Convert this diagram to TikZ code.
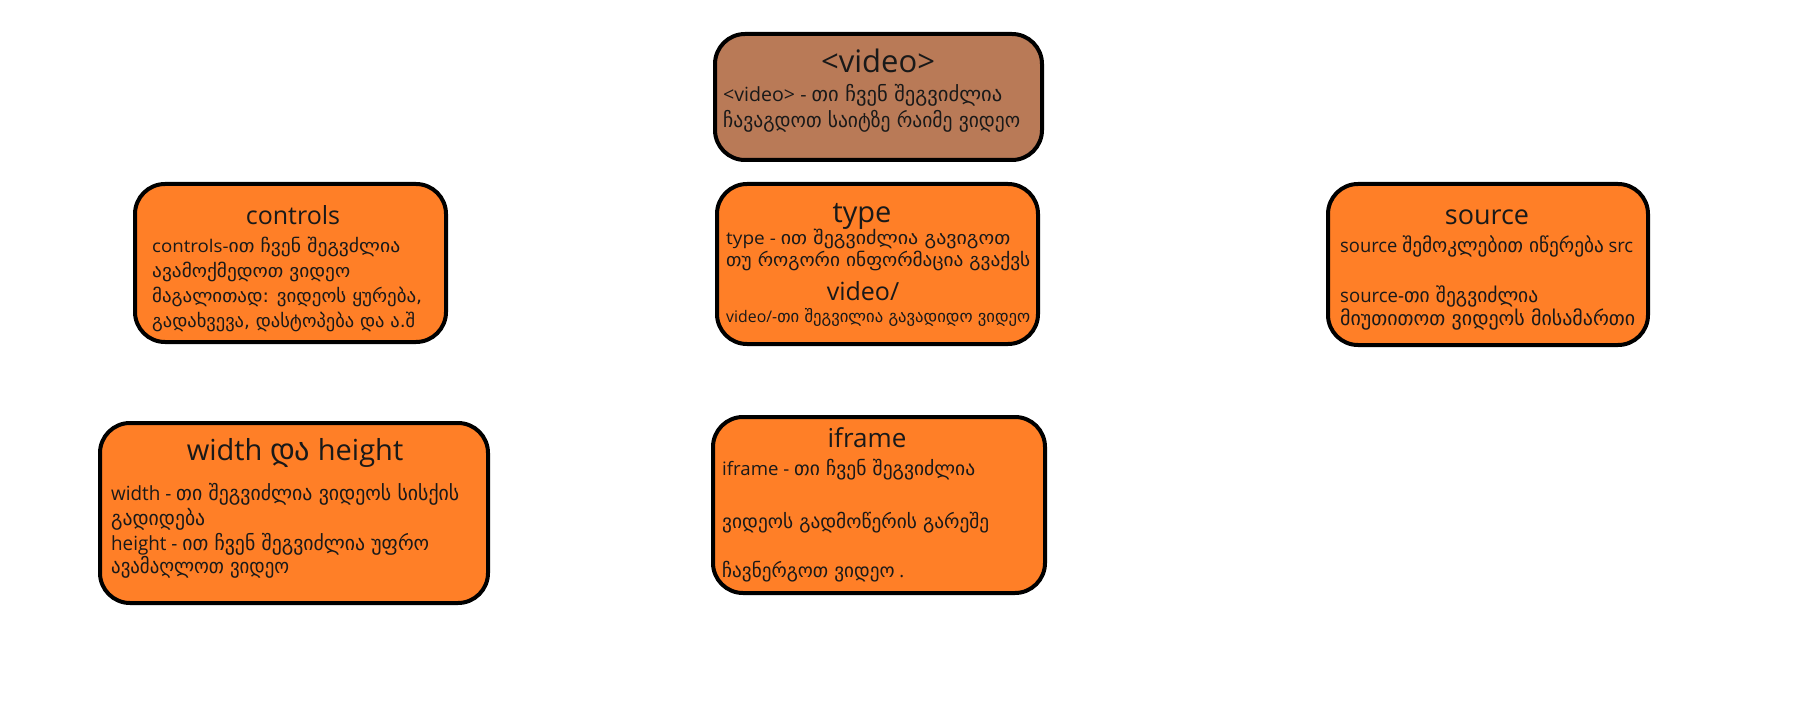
\documentclass[tikz,border=0pt]{standalone}
\usepackage{fontspec}
\usepackage{graphicx}
\setmainfont{Open Sans}
\newfontfamily\ka{DejaVu Sans}[Scale=1.05]
\definecolor{orangefill}{RGB}{255,127,39}
\definecolor{brownfill}{RGB}{185,122,87}
\newcommand\fitw[2]{\resizebox{#1pt}{\height}{#2}}
\newcommand\bsz[1]{\fontsize{#1}{#1}\selectfont}
\begin{document}
\begin{tikzpicture}[x=1pt,y=-1pt,
  box/.style={draw=black, line width=4pt, rounded corners=30pt, fill=orangefill, inner sep=0pt},
  ttl/.style={anchor=base, inner sep=0pt, text=black!90},
  txt/.style={anchor=base west, inner sep=0pt, text=black!90}]
\useasboundingbox (0,0) rectangle (1801,711);
\fill[white] (0,0) rectangle (1801,711);

% boxes
\node[box, fill=brownfill, minimum width=327pt, minimum height=126pt] (video) at (878.5,97) {};
\node[box, minimum width=311pt, minimum height=158pt] (controls) at (290.5,263) {};
\node[box, minimum width=321pt, minimum height=160pt] (type) at (877.5,264) {};
\node[box, minimum width=320pt, minimum height=161pt] (source) at (1488,264.5) {};
\node[box, minimum width=388pt, minimum height=180pt] (wh) at (294,513) {};
\node[box, minimum width=332pt, minimum height=176pt] (iframe) at (879,505) {};

% video
\node[ttl, font=\bsz{31}] (videoT) at (878,73) {<video>};
\node[txt, font=\bsz{19.5}] (video1) at (723,102) {\fitw{279}{<video> - {\ka თი ჩვენ შეგვიძლია}}};
\node[txt, font=\bsz{19.5}] (video2) at (723,128) {\fitw{297}{{\ka ჩავაგდოთ საიტზე რაიმე ვიდეო}}};

% controls
\node[ttl, font=\bsz{25}] (controlsT) at (293,225) {controls};
\node[txt, font=\bsz{17.5}] (controls1) at (152,253) {\fitw{248}{controls-{\ka ით ჩვენ შეგვძლია}}};
\node[txt, font=\bsz{17.5}] (controls2) at (152,278) {\fitw{198}{{\ka ავამოქმედოთ ვიდეო}}};
\node[txt, font=\bsz{17.5}] (controls3) at (152,302) {\fitw{270}{{\ka მაგალითად: ვიდეოს ყურება,}}};
\node[txt, font=\bsz{17.5}] (controls4) at (152,327) {\fitw{263}{{\ka გადახვევა, დასტოპება და ა.შ}}};

% type
\node[ttl, font=\bsz{29}] (typeT) at (862,223) {type};
\node[txt, font=\bsz{17.5}] (type1) at (726,245) {\fitw{284}{type - {\ka ით შეგვიძლია გავიგოთ}}};
\node[txt, font=\bsz{17.5}] (type2) at (726,267) {\fitw{304}{{\ka თუ როგორი ინფორმაცია გვაქვს}}};
\node[ttl, font=\bsz{25}] (typeV) at (863,300) {video/};
\node[txt, font=\bsz{16}] (type3) at (726,323) {\fitw{304}{video/-{\ka თი შეგვილია გავადიდო ვიდეო}}};

% source
\node[ttl, font=\bsz{27}] (sourceT) at (1487,225) {source};
\node[txt, font=\bsz{19}] (source1) at (1340,253) {\fitw{293}{source {\ka შემოკლებით იწერება} src}};
\node[txt, font=\bsz{19}] (source2) at (1340,302) {\fitw{198}{source-{\ka თი შეგვიძლია}}};
\node[txt, font=\bsz{19}] (source3) at (1340,325) {\fitw{295}{{\ka მიუთითოთ ვიდეოს მისამართი}}};

% width and height
\node[ttl, font=\bsz{29}] (whT) at (295,460) {width {\ka და} height};
\node[txt, font=\bsz{19.5}] (wh1) at (111,500) {\fitw{348}{width - {\ka თი შეგვიძლია ვიდეოს სისქის}}};
\node[txt, font=\bsz{19.5}] (wh2) at (111,525) {\fitw{94}{{\ka გადიდება}}};
\node[txt, font=\bsz{19.5}] (wh3) at (111,550) {\fitw{318}{height - {\ka ით ჩვენ შეგვიძლია უფრო}}};
\node[txt, font=\bsz{19.5}] (wh4) at (111,573) {\fitw{178}{{\ka ავამაღლოთ ვიდეო}}};

% iframe
\node[ttl, font=\bsz{26}] (iframeT) at (867,447) {iframe};
\node[txt, font=\bsz{18.5}] (iframe1) at (722,475) {\fitw{253}{iframe - {\ka თი ჩვენ შეგვიძლია}}};
\node[txt, font=\bsz{18.5}] (iframe2) at (722,528) {\fitw{267}{{\ka ვიდეოს გადმოწერის გარეშე}}};
\node[txt, font=\bsz{18.5}] (iframe3) at (722,577) {\fitw{182}{{\ka ჩავნერგოთ ვიდეო} .}};
\end{tikzpicture}
\end{document}
